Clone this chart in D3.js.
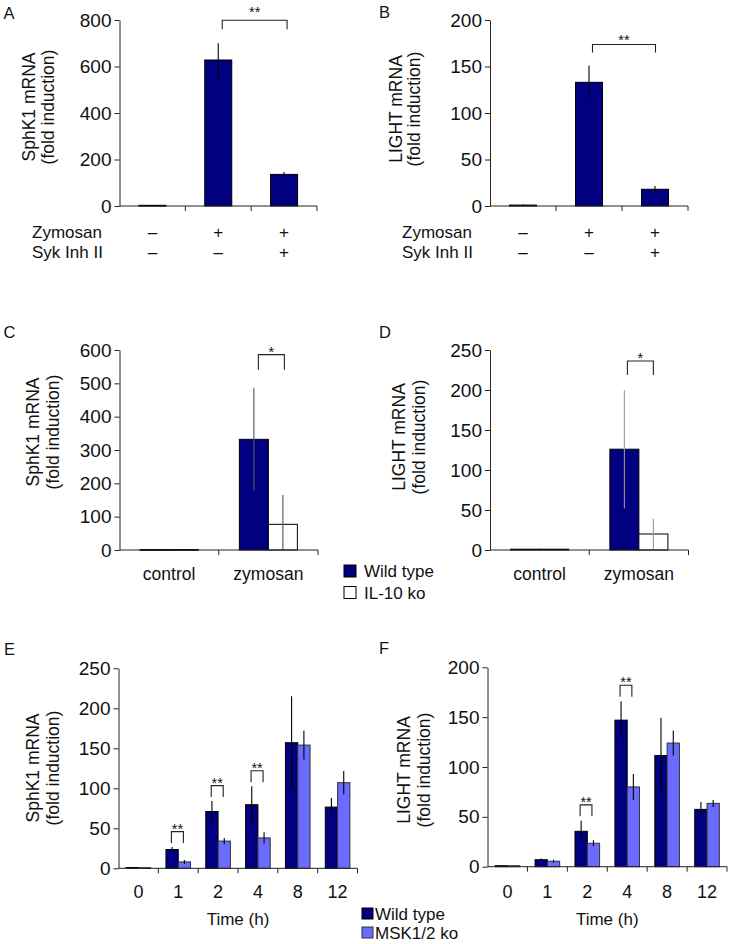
<!DOCTYPE html>
<html><head><meta charset="utf-8">
<script src="https://cdn.jsdelivr.net/npm/d3@7"></script>
<style>body{margin:0;background:#fff}svg{display:block}</style>
</head><body>
<script>
// ---------- DATA ----------
// Panels A / B
const abConditions = ["control", "zymosan", "zymosan+SykInhII"];
const zymosanSigns = ["\u2013", "+", "+"];
const sykSigns = ["\u2013", "\u2013", "+"];
const sphk1A = [3, 628, 136];
const sphk1AErr = [1, 72, 10];
const lightB = [1, 133, 18];
const lightBErr = [0.5, 18, 3.5];
const ticksA = [0, 200, 400, 600, 800];
const ticksB = [0, 50, 100, 150, 200];

// Panels C / D
const cdGroups = ["control", "zymosan"];
const sphk1C_wt = [1.5, 332];
const sphk1C_wtErr = [0, 155];
const sphk1C_ko = [1.5, 77];
const sphk1C_koErr = [0, 88];
const lightD_wt = [1, 126];
const lightD_wtErr = [0, 74];
const lightD_ko = [1, 20];
const lightD_koErr = [0, 19];
const ticksC = [0, 100, 200, 300, 400, 500, 600];
const ticksD = [0, 50, 100, 150, 200, 250];
const legendCD = ["Wild type", "IL-10 ko"];

// Panels E / F
const times = ["0", "1", "2", "4", "8", "12"];
const sphk1E_wt = [1, 23.5, 71, 79.5, 157, 76.5];
const sphk1E_wtErr = [0, 3, 13, 23, 58, 11.5];
const sphk1E_ko = [0.8, 8, 34, 38, 154, 107];
const sphk1E_koErr = [0, 2.5, 4, 7, 18, 14.5];
const lightF_wt = [1, 7, 35.5, 147, 111.5, 57.5];
const lightF_wtErr = [0, 1.3, 10.5, 19, 38, 7.5];
const lightF_ko = [1, 5.5, 23.5, 80, 124, 63.5];
const lightF_koErr = [0, 1.5, 3, 13, 12.5, 3.5];
const ticksE = [0, 50, 100, 150, 200, 250];
const ticksF = [0, 50, 100, 150, 200];
const legendEF = ["Wild type", "MSK1/2 ko"];

// significance marks: [category, series] pairs
const sigA = [{ a: ["zymosan", 0], b: ["zymosan+SykInhII", 0], label: "**" }];
const sigB = [{ a: ["zymosan", 0], b: ["zymosan+SykInhII", 0], label: "**" }];
const sigC = [{ a: ["zymosan", 0], b: ["zymosan", 1], label: "*" }];
const sigD = [{ a: ["zymosan", 0], b: ["zymosan", 1], label: "*" }];
const sigE = ["1", "2", "4"].map(t => ({ a: [t, 0], b: [t, 1], label: "**" }));
const sigF = ["2", "4"].map(t => ({ a: [t, 0], b: [t, 1], label: "**" }));

// ---------- DRAWING ----------
const FONT = '"Liberation Sans", Arial, Helvetica, sans-serif';
const NAVY = "#000080", LIGHTBLUE = "#6b6bff";
const svg = d3.select("body").append("svg")
  .attr("width", 732).attr("height", 944)
  .attr("font-family", FONT);
svg.append("rect").attr("width", 732).attr("height", 944).attr("fill", "#fff");

function drawPanel(p) {
  const g = svg.append("g");
  const y = d3.scaleLinear().domain([0, p.yMax]).range([p.yBottom, p.yTop]);
  const x = d3.scaleBand().domain(p.cats).range([p.x0, p.x1]).padding(0);
  const nS = p.series.length;
  const barX = (ci, si) => x(p.cats[ci]) + x.bandwidth() / 2 + (si - nS / 2) * p.barW;
  const barC = (ci, si) => barX(ci, si) + p.barW / 2;

  // bars
  p.series.forEach((s, si) => {
    g.selectAll(null).data(s.vals).join("rect")
      .attr("x", (d, i) => barX(i, si))
      .attr("y", d => y(d))
      .attr("width", p.barW)
      .attr("height", d => Math.max(0.8, y(0) - y(d)))
      .attr("fill", s.fill)
      .attr("stroke", s.stroke)
      .attr("stroke-width", 1);
  });
  // error bars
  p.series.forEach((s, si) => {
    const idx = s.vals.map((d, i) => i).filter(i => s.errs[i] > 0);
    g.selectAll(null).data(idx).join("line")
      .attr("x1", i => barC(i, si)).attr("x2", i => barC(i, si))
      .attr("y1", i => y(Math.max(0, s.vals[i] - s.errs[i])))
      .attr("y2", i => y(s.vals[i] + s.errs[i]))
      .attr("stroke", p.errColor).attr("stroke-width", 1.1);
  });

  // y axis
  const ya = d3.axisLeft(y).tickValues(p.ticks).tickSize(5).tickSizeOuter(0).tickPadding(3);
  g.append("g").attr("transform", `translate(${p.x0},0)`).call(ya)
    .attr("font-family", FONT).attr("font-size", 19)
    .call(a => a.select(".domain").attr("stroke", "#222"))
    .call(a => a.selectAll(".tick line").attr("stroke", "#222"))
    .call(a => a.selectAll(".tick text").attr("fill", "#111"));

  // x axis baseline and ticks at band boundaries
  g.append("line").attr("x1", p.x0).attr("x2", p.x1)
    .attr("y1", y(0)).attr("y2", y(0)).attr("stroke", "#222").attr("stroke-width", 1);
  g.selectAll(null).data(p.cats).join("line")
    .attr("x1", d => x(d) + x.step()).attr("x2", d => x(d) + x.step())
    .attr("y1", y(0)).attr("y2", y(0) + 5).attr("stroke", "#222");

  // category labels
  if (p.catLabels) {
    g.selectAll(null).data(p.cats).join("text")
      .attr("x", d => x(d) + x.bandwidth() / 2)
      .attr("y", p.catLabelY)
      .attr("text-anchor", "middle").attr("font-size", p.catFont || 17).attr("fill", "#111")
      .text((d, i) => p.catLabels[i]);
  }
  if (p.xTitle) {
    g.append("text").attr("x", (p.x0 + p.x1) / 2).attr("y", p.xTitleY)
      .attr("text-anchor", "middle").attr("font-size", 17).attr("fill", "#111")
      .text(p.xTitle);
  }
  // condition rows (A/B)
  if (p.rows) {
    p.rows.forEach((r, ri) => {
      const ry = p.rowY + ri * 20;
      g.append("text").attr("x", p.rowLabelX).attr("y", ry)
        .attr("font-size", 17).attr("fill", "#111").text(r.name);
      g.selectAll(null).data(r.signs).join("text")
        .attr("x", (d, i) => x(p.cats[i]) + x.bandwidth() / 2)
        .attr("y", ry).attr("text-anchor", "middle")
        .attr("font-size", 17).attr("fill", "#111").text(d => d);
    });
  }
  // y title
  p.yTitle.forEach((t, ti) => {
    g.append("text")
      .attr("transform", `translate(${p.yTitleX[ti]},${p.yTitleY}) rotate(-90)`)
      .attr("text-anchor", "middle").attr("font-size", 17.5).attr("fill", "#111")
      .text(t);
  });
  // panel letter
  g.append("text").attr("x", p.letterX).attr("y", p.letterY)
    .attr("font-size", 16.5).attr("fill", "#111").text(p.letter);

  // significance brackets
  const top = (ci, si) => { const s = p.series[si]; return s.vals[ci] + s.errs[ci]; };
  p.sig.forEach(sg => {
    const ca = p.cats.indexOf(sg.a[0]), cb = p.cats.indexOf(sg.b[0]);
    const xa = barC(ca, sg.a[1]) + p.sigOff[0];
    const xb = barC(cb, sg.b[1]) + p.sigOff[1];
    const by = y(Math.max(top(ca, sg.a[1]), top(cb, sg.b[1]))) - p.sigGap;
    g.append("path")
      .attr("d", `M${xa},${by + p.sigLeg}V${by}H${xb}V${by + p.sigLeg}`)
      .attr("fill", "none").attr("stroke", "#222").attr("stroke-width", 1.1);
    g.append("text").attr("x", (xa + xb) / 2).attr("y", by + p.starDy)
      .attr("text-anchor", "middle").attr("font-size", 14.5).attr("fill", "#111")
      .text(sg.label);
  });
}

function drawLegend(items, fills, x, y0, dy, size, textX) {
  const g = svg.append("g");
  items.forEach((t, i) => {
    g.append("rect").attr("x", x).attr("y", y0 + i * dy).attr("width", size).attr("height", size)
      .attr("fill", fills[i].fill).attr("stroke", fills[i].stroke).attr("stroke-width", 1);
    g.append("text").attr("x", textX).attr("y", y0 + i * dy + size / 2 + 6)
      .attr("font-size", 17).attr("fill", "#111").text(t);
  });
}

const wtStyle = { fill: NAVY, stroke: "#000" };
const ilStyle = { fill: "#fff", stroke: "#000" };
const mskStyle = { fill: LIGHTBLUE, stroke: "#333" };

// A
drawPanel({
  letter: "A", letterX: 3.5, letterY: 18.5,
  cats: abConditions, x0: 119.5, x1: 317, yBottom: 206, yTop: 20, yMax: 800, ticks: ticksA,
  barW: 27, series: [{ vals: sphk1A, errs: sphk1AErr, ...wtStyle }], errColor: "#000",
  rows: [{ name: "Zymosan", signs: zymosanSigns }, { name: "Syk Inh II", signs: sykSigns }],
  rowY: 237.5, rowLabelX: 32,
  yTitle: ["SphK1 mRNA", "(fold induction)"], yTitleX: [34.5, 54], yTitleY: 107,
  sig: sigA, sigOff: [4, 3], sigGap: 23, sigLeg: 9, starDy: -3
});
// B
drawPanel({
  letter: "B", letterX: 379, letterY: 18,
  cats: abConditions, x0: 490, x1: 688, yBottom: 206, yTop: 20, yMax: 200, ticks: ticksB,
  barW: 27, series: [{ vals: lightB, errs: lightBErr, ...wtStyle }], errColor: "#000",
  rows: [{ name: "Zymosan", signs: zymosanSigns }, { name: "Syk Inh II", signs: sykSigns }],
  rowY: 237.5, rowLabelX: 402,
  yTitle: ["LIGHT mRNA", "(fold induction)"], yTitleX: [401.5, 420], yTitleY: 109,
  sig: sigB, sigOff: [3.5, 0.5], sigGap: 21, sigLeg: 8, starDy: 0
});
// C
drawPanel({
  letter: "C", letterX: 3.5, letterY: 338,
  cats: cdGroups, x0: 119.5, x1: 318, yBottom: 550, yTop: 350, yMax: 600, ticks: ticksC,
  barW: 29, series: [
    { vals: sphk1C_wt, errs: sphk1C_wtErr, ...wtStyle },
    { vals: sphk1C_ko, errs: sphk1C_koErr, ...ilStyle }], errColor: "#555",
  catLabels: cdGroups, catLabelY: 579.5, catFont: 17.5,
  yTitle: ["SphK1 mRNA", "(fold induction)"], yTitleX: [39, 58.5], yTitleY: 432,
  sig: sigC, sigOff: [4.5, 1.5], sigGap: 33, sigLeg: 15, starDy: 2
});
// D
drawPanel({
  letter: "D", letterX: 379, letterY: 338,
  cats: cdGroups, x0: 490, x1: 688.5, yBottom: 550, yTop: 350, yMax: 250, ticks: ticksD,
  barW: 29, series: [
    { vals: lightD_wt, errs: lightD_wtErr, ...wtStyle },
    { vals: lightD_ko, errs: lightD_koErr, ...ilStyle }], errColor: "#999",
  catLabels: cdGroups, catLabelY: 579.5, catFont: 17.5,
  yTitle: ["LIGHT mRNA", "(fold induction)"], yTitleX: [405, 424.5], yTitleY: 437,
  sig: sigD, sigOff: [3, 0], sigGap: 29, sigLeg: 14, starDy: 2
});
drawLegend(legendCD, [wtStyle, ilStyle], 344, 565, 21.5, 12, 364);

// E
drawPanel({
  letter: "E", letterX: 4, letterY: 655,
  cats: times, x0: 118.5, x1: 357.5, yBottom: 868.3, yTop: 668.3, yMax: 250, ticks: ticksE,
  barW: 12.3, series: [
    { vals: sphk1E_wt, errs: sphk1E_wtErr, ...wtStyle },
    { vals: sphk1E_ko, errs: sphk1E_koErr, ...mskStyle }], errColor: "#000",
  catLabels: times, catLabelY: 897.5, catFont: 18, xTitle: "Time (h)", xTitleY: 925,
  yTitle: ["SphK1 mRNA", "(fold induction)"], yTitleX: [39, 58.5], yTitleY: 768,
  sig: sigE, sigOff: [-0.7, -1], sigGap: 15.5, sigLeg: 11.5, starDy: 2
});
// F
drawPanel({
  letter: "F", letterX: 379, letterY: 654,
  cats: times, x0: 487.5, x1: 727, yBottom: 866.7, yTop: 667.3, yMax: 200, ticks: ticksF,
  barW: 12.3, series: [
    { vals: lightF_wt, errs: lightF_wtErr, ...wtStyle },
    { vals: lightF_ko, errs: lightF_koErr, ...mskStyle }], errColor: "#000",
  catLabels: times, catLabelY: 897.5, catFont: 18, xTitle: "Time (h)", xTitleY: 925,
  yTitle: ["LIGHT mRNA", "(fold induction)"], yTitleX: [410, 430], yTitleY: 770,
  sig: sigF, sigOff: [-1, -1.5], sigGap: 16, sigLeg: 11.5, starDy: 2
});
drawLegend(legendEF, [wtStyle, mskStyle], 362, 908, 19, 11, 375);
</script>
</body></html>
